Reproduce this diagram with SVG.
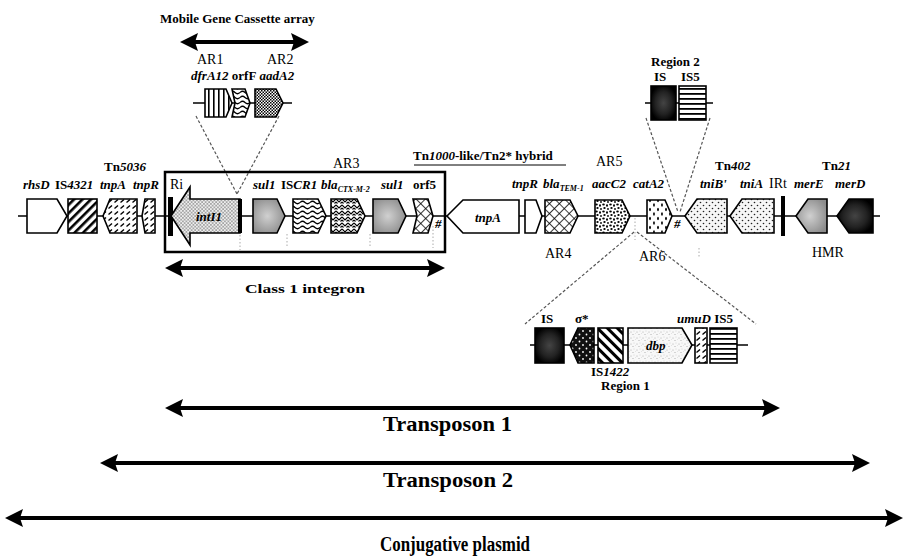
<svg xmlns="http://www.w3.org/2000/svg" width="906" height="556" viewBox="0 0 906 556">
<defs>
<style>
text{font-family:"Liberation Serif","Times New Roman",serif;fill:#000}
.g{font-size:13px;font-weight:bold;font-style:italic}
.u{font-style:normal}
.i{font-style:italic}
.ar{font-size:14px}
.lb{font-size:13px;font-weight:bold}
.big{font-size:20px;font-weight:bold}
.sh{stroke:#000;stroke-width:1.6}
.bar{fill:#000}
.ln{stroke:#000;stroke-width:1.5;fill:none}
.dash{stroke:#555;stroke-width:1.2;stroke-dasharray:3 2;fill:none}
.dot{stroke:#aaa;stroke-width:1;stroke-dasharray:1.5 2;fill:none}
.arr{stroke:#000;stroke-width:4;fill:none;marker-start:url(#ah);marker-end:url(#ah)}
</style>
<marker id="ah" markerUnits="userSpaceOnUse" markerWidth="20" markerHeight="20" refX="6" refY="9" orient="auto-start-reverse">
<path d="M0,0L18,9L0,18L3,9Z" fill="#000"/>
</marker>
<pattern id="diagR" width="6" height="6" patternUnits="userSpaceOnUse" patternTransform="rotate(45)"><rect width="6" height="6" fill="#fff"/><rect width="2.6" height="6" fill="#000"/></pattern>
<pattern id="diagL" width="7" height="7" patternUnits="userSpaceOnUse" patternTransform="rotate(-45)"><rect width="7" height="7" fill="#fff"/><rect width="3" height="7" fill="#000"/></pattern>
<pattern id="dsh" width="6" height="6" patternUnits="userSpaceOnUse"><rect width="6" height="6" fill="#fff"/><path d="M0.5,4.5L4,1.5" stroke="#000" stroke-width="1.4"/></pattern>
<pattern id="stip" width="3.5" height="3.5" patternUnits="userSpaceOnUse"><rect width="3.5" height="3.5" fill="#eee"/><circle cx="0.9" cy="0.9" r="0.65" fill="#333"/><circle cx="2.65" cy="2.65" r="0.65" fill="#333"/></pattern>
<pattern id="dots2" width="6" height="6" patternUnits="userSpaceOnUse"><rect width="6" height="6" fill="#f6f6f6"/><circle cx="1.5" cy="1.5" r="0.8" fill="#222"/><circle cx="4.5" cy="4.5" r="0.8" fill="#222"/></pattern>
<pattern id="fine" width="6" height="6" patternUnits="userSpaceOnUse"><rect width="6" height="6" fill="#f8f8f8"/><circle cx="1" cy="2" r="0.5" fill="#999"/><circle cx="4" cy="1" r="0.4" fill="#aaa"/><circle cx="3" cy="4.5" r="0.5" fill="#999"/><circle cx="5.4" cy="3.6" r="0.4" fill="#bbb"/></pattern>
<pattern id="blob" width="7" height="7" patternUnits="userSpaceOnUse"><rect width="7" height="7" fill="#fff"/><ellipse cx="1.5" cy="1.5" rx="1.3" ry="1" fill="#000"/><ellipse cx="5" cy="2.5" rx="1" ry="1.3" fill="#000"/><ellipse cx="2.5" cy="5" rx="1.2" ry="1.1" fill="#000"/><ellipse cx="6" cy="6" rx="0.9" ry="0.9" fill="#000"/></pattern>
<pattern id="cat" width="8" height="9" patternUnits="userSpaceOnUse"><rect width="8" height="9" fill="#fff"/><ellipse cx="2" cy="2.5" rx="0.9" ry="1.8" fill="#000"/><ellipse cx="6" cy="7" rx="0.9" ry="1.8" fill="#000"/></pattern>
<pattern id="wave" width="10" height="5" patternUnits="userSpaceOnUse"><rect width="10" height="5" fill="#fff"/><path d="M0,2.5Q2.5,0 5,2.5T10,2.5" stroke="#000" stroke-width="1.2" fill="none"/></pattern>
<pattern id="zig" width="6" height="6" patternUnits="userSpaceOnUse"><rect width="6" height="6" fill="#fff"/><path d="M0,1L3,4L6,1M0,4L1.5,5.5M4.5,5.5L6,4" stroke="#000" stroke-width="1.2" fill="none"/></pattern>
<pattern id="xh" width="7" height="7" patternUnits="userSpaceOnUse" patternTransform="rotate(45)"><rect width="7" height="7" fill="#fff"/><path d="M0,0H7M0,0V7" stroke="#000" stroke-width="1.6"/></pattern>
<pattern id="vst" width="5" height="5" patternUnits="userSpaceOnUse"><rect width="5" height="5" fill="#fff"/><rect x="3" width="1.6" height="5" fill="#000"/></pattern>
<pattern id="hst" width="5" height="5" patternUnits="userSpaceOnUse"><rect width="5" height="5" fill="#fff"/><rect y="3" width="5" height="1.8" fill="#000"/></pattern>
<pattern id="chk" width="3" height="3" patternUnits="userSpaceOnUse"><rect width="3" height="3" fill="#fff"/><rect width="1.5" height="1.5" fill="#000"/><rect x="1.5" y="1.5" width="1.5" height="1.5" fill="#000"/></pattern>
<pattern id="sig" width="7" height="7" patternUnits="userSpaceOnUse"><rect width="7" height="7" fill="#111"/><circle cx="2" cy="2" r="0.9" fill="#fff"/><circle cx="5.5" cy="5.5" r="0.9" fill="#fff"/></pattern>
<radialGradient id="grey" cx="0.45" cy="0.5" r="0.6"><stop offset="0" stop-color="#d0d0d0"/><stop offset="1" stop-color="#8c8c8c"/></radialGradient>
<radialGradient id="blk" cx="0.5" cy="0.5" r="0.55"><stop offset="0" stop-color="#444"/><stop offset="0.6" stop-color="#222"/><stop offset="1" stop-color="#000"/></radialGradient>
</defs>
<rect width="906" height="556" fill="#fff"/>

<g id="connectors">
<line class="ln" x1="18" y1="216" x2="880" y2="216"/>
<line class="ln" x1="193" y1="103" x2="292" y2="103"/>
<line class="ln" x1="645" y1="103" x2="713" y2="103"/>
<line class="ln" x1="530" y1="345" x2="748" y2="345"/>
<path class="dash" d="M196,116L237,194M279,116L237,194"/>
<path class="dash" d="M646,118L678,212M710,118L680,212"/>
<path class="dash" d="M634,232L525,324M637,232L756,324"/>
<path class="dot" d="M240,235V250M287,234V248M370,234V248M433,226V248M635,218V240M699,248V258"/>
<line class="arr" x1="192" y1="42" x2="297" y2="42"/>
<line class="arr" x1="177" y1="268" x2="433" y2="268"/>
<line class="arr" x1="177" y1="408" x2="768" y2="408"/>
<line class="arr" x1="112" y1="463" x2="858" y2="463"/>
<line class="arr" x1="17" y1="518" x2="891" y2="518"/>
</g>

<g id="labels-top">
<text class="lb" x="160" y="23" font-size="12">Mobile Gene Cassette array</text>
<text class="ar" x="197" y="64" font-size="13">AR1</text>
<text class="ar" x="267" y="64" font-size="13">AR2</text>
<text class="g" x="191" y="80" font-size="12">dfrA12 <tspan class="u">orfF</tspan> aadA2</text>
</g>

<g id="cassette-dfrA12"><path class="sh" d="M205,89H226L232,103L226,117H205Z" fill="url(#vst)"/></g>
<g id="cassette-orfF"><path class="sh" d="M232,89H245L250,103L245,117H232L235,103Z" fill="url(#wave)"/></g>
<g id="cassette-aadA2"><path class="sh" d="M255,89H276L283,103L276,117H255Z" fill="url(#chk)"/></g>

<g id="region2">
<text class="lb" x="651" y="66" font-size="12">Region 2</text>
<text class="lb" x="654" y="81">IS</text>
<text class="lb" x="681" y="81">IS5</text>
<rect class="sh" x="651" y="86" width="25" height="34" fill="url(#blk)"/>
<rect class="sh" x="679" y="86" width="27" height="34" fill="url(#hst)"/>
</g>

<g id="gene-rhsD"><path class="sh" d="M27,199H57L67,216L57,233H27Z" fill="#fff"/><text class="g" x="23" y="189">rhsD</text></g>
<g id="gene-IS4321"><rect class="sh" x="68" y="199" width="29" height="34" fill="url(#diagR)"/><text class="g" x="55" y="189"><tspan class="u">IS</tspan>4321</text></g>
<g id="gene-tnpA1"><path class="sh" d="M110,199H137V233H110L103,216Z" fill="url(#dsh)"/><text class="g" x="100" y="189">tnpA</text></g>
<g id="gene-tnpR1"><path class="sh" d="M145,199H155V233H145L142,216Z" fill="url(#dsh)"/><text class="g" x="133" y="189">tnpR</text></g>
<text class="g" x="104" y="171"><tspan class="u">Tn</tspan>5036</text>

<g id="integron">
<rect x="165" y="172" width="280" height="80" fill="none" stroke="#000" stroke-width="2.5"/>
<rect class="bar" x="168" y="197" width="5" height="39"/>
<text class="ar" x="170" y="189">Ri</text>
<text class="ar" x="333" y="168">AR3</text>
</g>
<g id="gene-intI1"><path class="sh" d="M171,216L190,187V199H240V233H190V245Z" fill="url(#stip)"/><rect class="bar" x="238" y="199" width="4" height="34"/><text class="g" x="196" y="221">intI1</text></g>
<g id="gene-sul1a"><path class="sh" d="M253,199H277L285,216L277,233H253Z" fill="url(#grey)"/><text class="g" x="253" y="189">sul1</text></g>
<g id="gene-ISCR1"><path class="sh" d="M293,199H318L326,216L318,233H293Z" fill="url(#wave)"/><text class="g" x="281" y="189"><tspan class="u">IS</tspan>CR1</text></g>
<g id="gene-blaCTX"><path class="sh" d="M331,199H357L365,216L357,233H331Z" fill="url(#zig)"/><text class="g" x="321" y="189">bla<tspan font-size="8" dy="3">CTX-M-2</tspan></text></g>
<g id="gene-sul1b"><path class="sh" d="M373,199H398L406,216L398,233H373Z" fill="url(#grey)"/><text class="g" x="381" y="189">sul1</text></g>
<g id="gene-orf5"><path class="sh" d="M413,199H428L433,216L428,233H413L417,216Z" fill="url(#xh)"/><text class="lb" x="413" y="189">orf5</text></g>
<text class="g" x="435" y="228">#</text>

<text class="lb" x="413" y="160"><tspan>Tn</tspan><tspan class="i">1000</tspan><tspan>-like/Tn2* hybrid</tspan></text>
<line x1="414" y1="165" x2="566" y2="165" stroke="#000" stroke-width="1"/>
<g id="gene-tnpA2"><path class="sh" d="M447,216L463,200H519V233H463Z" fill="#fff"/><text class="g" x="475" y="222">tnpA</text></g>
<g id="gene-tnpR2"><path class="sh" d="M525,200H536L542,216L536,233H525Z" fill="#fff"/><text class="g" x="512" y="188">tnpR</text></g>
<g id="gene-blaTEM"><path class="sh" d="M545,200H570L578,216L570,233H545Z" fill="url(#xh)"/><text class="g" x="543" y="188">bla<tspan font-size="8" dy="3">TEM-1</tspan></text><text class="ar" x="545" y="258">AR4</text></g>
<g id="gene-aacC2"><path class="sh" d="M595,200H622L630,216L622,233H595Z" fill="url(#blob)"/><text class="ar" x="596" y="166">AR5</text><text class="g" x="592" y="188">aacC2</text></g>
<g id="gene-catA2"><path class="sh" d="M647,200H665L672,216L665,233H647Z" fill="url(#cat)"/><text class="g" x="633" y="188">catA2</text><text class="ar" x="639" y="261">AR6</text></g>
<text class="g" x="674" y="228">#</text>
<g id="gene-tniB"><path class="sh" d="M685,216L697,199H727V233H697Z" fill="url(#dots2)"/><text class="g" x="700" y="188">tniB'</text></g>
<g id="gene-tniA"><path class="sh" d="M730,216L742,199H774V233H742Z" fill="url(#dots2)"/><text class="g" x="740" y="188">tniA</text></g>
<text class="g" x="715" y="170"><tspan class="u">Tn</tspan>402</text>
<g id="IRt"><rect class="bar" x="781" y="196" width="4" height="40"/><text class="ar" x="769" y="188">IRt</text></g>
<g id="gene-merE"><path class="sh" d="M796,216L808,199H827V233H808Z" fill="url(#grey)"/><text class="g" x="794" y="188">merE</text></g>
<g id="gene-merD"><path class="sh" d="M837,216L849,199H873V233H849Z" fill="url(#blk)"/><text class="g" x="835" y="188">merD</text></g>
<text class="g" x="822" y="170"><tspan class="u">Tn</tspan>21</text>
<text class="ar" x="812" y="257">HMR</text>

<g id="region1">
<text class="lb" x="541" y="323">IS</text>
<text class="lb" x="575" y="323">σ*</text>
<text class="g" x="677" y="323">umuD <tspan class="u">IS5</tspan></text>
<rect class="sh" x="535" y="328" width="29" height="35" fill="url(#blk)"/>
<path class="sh" d="M578,328H594V363H578L570,345Z" fill="url(#sig)"/>
<rect class="sh" x="598" y="328" width="25" height="35" fill="url(#diagL)"/>
<path class="sh" d="M628,328H682L692,345L682,363H628Z" fill="url(#fine)"/>
<text class="g" x="646" y="350">dbp</text>
<rect class="sh" x="695" y="328" width="12" height="35" fill="url(#dsh)"/>
<rect class="sh" x="710" y="328" width="27" height="35" fill="url(#hst)"/>
<text class="g" x="591" y="376"><tspan class="u">IS</tspan>1422</text>
<text class="lb" x="601" y="390" font-size="10">Region 1</text>
</g>

<g id="spans">
<text class="lb" x="245" y="293" font-size="15" textLength="120" lengthAdjust="spacingAndGlyphs">Class 1 integron</text>
<text class="big" x="383" y="431" textLength="129" lengthAdjust="spacingAndGlyphs">Transposon 1</text>
<text class="big" x="383" y="487" textLength="130" lengthAdjust="spacingAndGlyphs">Transposon 2</text>
<text class="big" x="380" y="551" textLength="150" lengthAdjust="spacingAndGlyphs">Conjugative plasmid</text>
</g>
</svg>
